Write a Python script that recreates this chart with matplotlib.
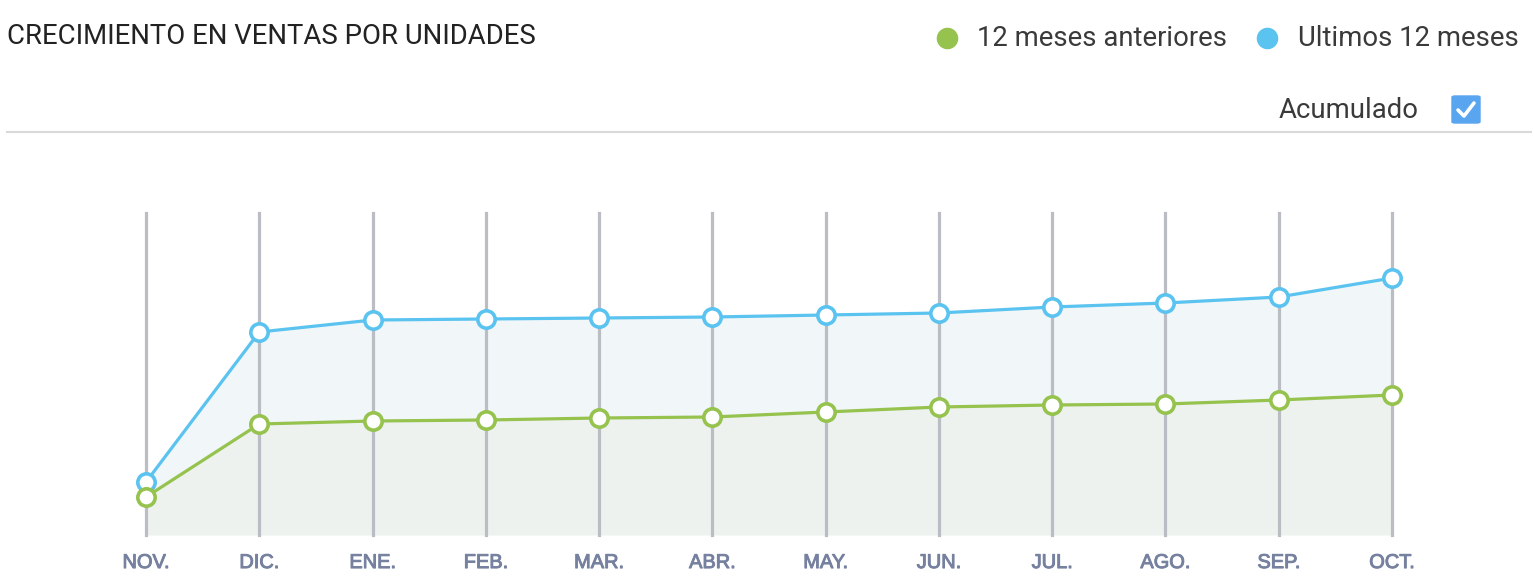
import numpy as np
import matplotlib.pyplot as plt
import matplotlib.patheffects as pe
from matplotlib.patches import FancyBboxPatch
from matplotlib.lines import Line2D

# datos (unidades relativas, sin eje y)
meses = ['NOV.', 'DIC.', 'ENE.', 'FEB.', 'MAR.', 'ABR.', 'MAY.', 'JUN.', 'JUL.', 'AGO.', 'SEP.', 'OCT.']
ultimos_12 = [53, 203, 215, 216, 217, 218, 220, 222, 228, 232, 238, 257]
anteriores_12 = [38, 111, 114, 115, 117, 118, 123, 128, 130, 131, 135, 140]

verde = '#96c24e'
azul = '#5bc3ef'

fig = plt.figure(figsize=(15.34, 5.84), dpi=100)
W, H = 1534, 584

def fx(px):
    return px / W

def fy(py):
    return 1 - py / H

# titulo
fig.text(fx(7), fy(37), 'CRECIMIENTO EN VENTAS POR UNIDADES', family='Roboto',
         fontsize=19.8, color='#222222', va='center', ha='left')

# leyenda
fig.lines.append(Line2D([fx(947)], [fy(38)], transform=fig.transFigure, marker='o',
                        markersize=14.5, color=verde, lw=0))
fig.text(fx(977), fy(39), '12 meses anteriores', family='Roboto', fontsize=19.8,
         color='#3a3a3a', va='center', ha='left')
fig.lines.append(Line2D([fx(1267)], [fy(38)], transform=fig.transFigure, marker='o',
                        markersize=14.5, color=azul, lw=0))
fig.text(fx(1298), fy(39), 'Ultimos 12 meses', family='Roboto', fontsize=19.8,
         color='#3a3a3a', va='center', ha='left')

# acumulado + checkbox
fig.text(fx(1419), fy(111), 'Acumulado', family='Roboto', fontsize=19.8,
         color='#3a3a3a', va='center', ha='right')
fig.patches.append(FancyBboxPatch((fx(1452), fy(123)), 28 / W, 27 / H,
                                  boxstyle='round,pad=0,rounding_size=0.002',
                                  transform=fig.transFigure, color='#5aa5f0'))
fig.lines.append(Line2D([fx(1458), fx(1464), fx(1474)], [fy(110), fy(116), fy(103)],
                        transform=fig.transFigure, color='white', lw=2.6,
                        solid_capstyle='round', solid_joinstyle='round'))

# linea separadora
fig.lines.append(Line2D([fx(7), fx(1531)], [fy(132), fy(132)], transform=fig.transFigure,
                        color='#d9d9d9', lw=1.5))

# area del grafico
ax = fig.add_axes([fx(146), fy(535), (1392 - 146) / W, (535 - 213) / H])
x = np.arange(len(meses))

ax.fill_between(x, anteriores_12, ultimos_12, color='#f1f6f9', lw=0, zorder=1)
ax.fill_between(x, 0, anteriores_12, color='#edf2ef', lw=0, zorder=1)

for xi in x:
    ax.axvline(xi, color='#babdc4', lw=2.3, zorder=2, clip_on=False)

ax.plot(x, ultimos_12, color=azul, lw=2.3, marker='o', markersize=12.5,
        markerfacecolor='white', markeredgecolor=azul, markeredgewidth=2.6,
        clip_on=False, zorder=4)
ax.plot(x, anteriores_12, color=verde, lw=2.3, marker='o', markersize=12.5,
        markerfacecolor='white', markeredgecolor=verde, markeredgewidth=2.6,
        clip_on=False, zorder=5)

ax.set_xlim(0, len(meses) - 1)
ax.set_ylim(0, 322)
ax.set_yticks([])
ax.set_xticks(x)
ax.set_xticklabels(meses, family='Liberation Sans', fontsize=14.4, color='#75819f')
for lbl in ax.get_xticklabels():
    lbl.set_path_effects([pe.withStroke(linewidth=0.7, foreground='#75819f')])
ax.tick_params(axis='x', length=0, pad=13)
for s in ax.spines.values():
    s.set_visible(False)
ax.patch.set_alpha(0)

fig.savefig('out.png', dpi=100)
